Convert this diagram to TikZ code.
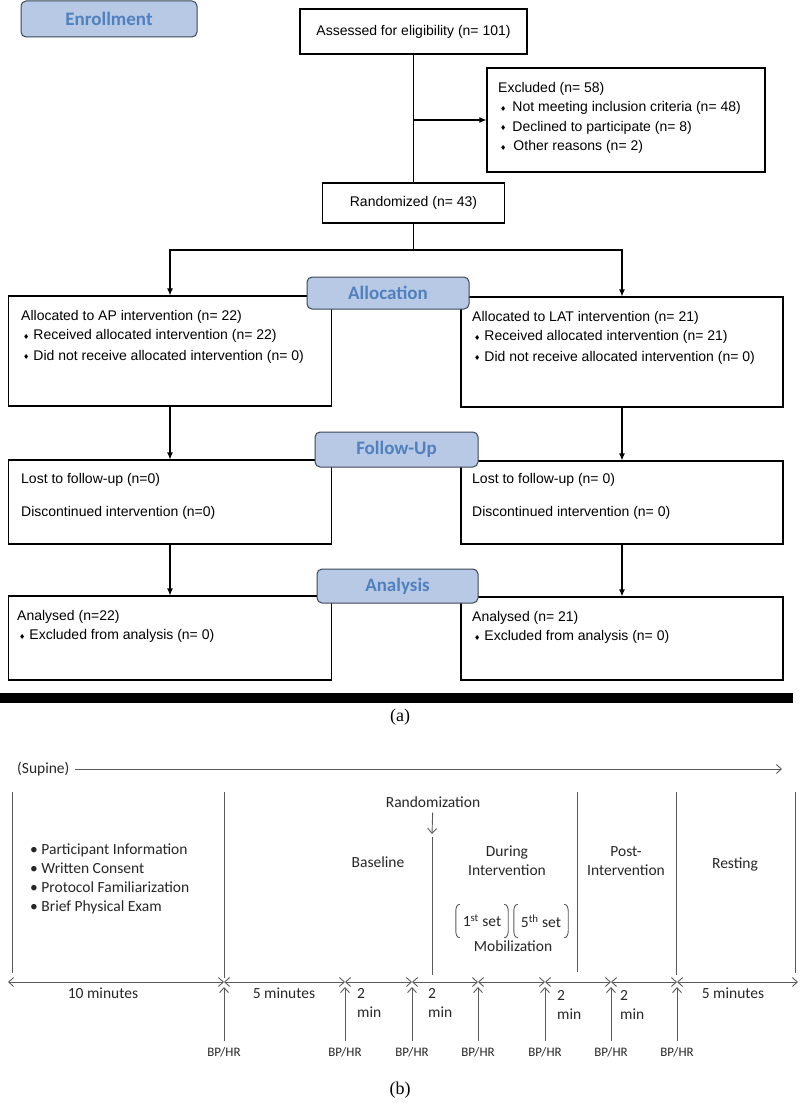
\documentclass[tikz,border=0pt]{standalone}
\usepackage{fontspec}
\setmainfont{Liberation Sans}
\newfontfamily\calfont{Carlito}
\newfontfamily\serfont{Liberation Serif}
\newfontfamily\diafont{DejaVu Sans}
\usetikzlibrary{arrows.meta,positioning}
\definecolor{lblfill}{HTML}{B7C9E5}
\definecolor{lbltext}{HTML}{5080BD}
\definecolor{lbldraw}{HTML}{3A4556}
\definecolor{tline}{HTML}{5A5A5A}
\newcommand{\dm}{\hspace*{2pt}\raisebox{0.8pt}{\diafont\fontsize{7}{7}\selectfont ♦}\hspace{4pt}}

\begin{document}
\begin{tikzpicture}[x=1pt,y=-1pt,
  box/.style={draw,line width=1.1pt,inner sep=0pt,font=\fontsize{14}{19.5}\selectfont},
  lbl/.style={draw=lbldraw,fill=lblfill,rounded corners=5pt,line width=1pt,text=lbltext,font=\calfont\bfseries\fontsize{19}{19}\selectfont,inner sep=0pt},
  txt/.style={anchor=north west,align=left,inner sep=0pt,font=\fontsize{14}{19.5}\selectfont},
  arr/.style={-{Latex[length=7pt,width=6pt]},line width=1.1pt},
  tl/.style={draw=tline,line width=0.9pt},
  tarr/.style={tl,<->,>={Straight Barb[length=5pt,width=9pt]}},
  uarr/.style={tl,->,>={Straight Barb[length=5pt,width=9pt]}},
  ctxt/.style={text=black!85,font=\calfont\fontsize{15.5}{19}\selectfont,inner sep=0pt},
  bp/.style={text=black!85,font=\calfont\fontsize{13}{13}\selectfont,inner sep=0pt},
  setbox/.style={ctxt,minimum height=33pt}]
    \useasboundingbox (0,0) rectangle (800,1105);

    % (a) flow chart
    \node[box,minimum width=227pt,minimum height=45pt] (assess) at (413.5,31.5) {Assessed for eligibility (n= 101)};
    \node[box,minimum width=278pt,minimum height=104pt] (excl) at (626,120) {};
    \node[txt] (exclt) at (498,82) {Excluded (n= 58)\\ \dm\hspace{2pt}Not meeting inclusion criteria (n= 48)\\ \dm\hspace{2pt}Declined to participate (n= 8)\\ \dm\hspace{3pt}Other reasons (n= 2)};
    \node[box,minimum width=182pt,minimum height=40pt] (rand) at (413.5,203) {Randomized (n= 43)};
    \coordinate (split) at (413.5,250);

    \node[box,minimum width=323pt,minimum height=110pt] (ap) at (170,351) {};
    \node[txt] (apt) at (21,310) {Allocated to AP intervention (n= 22)\\ \dm Received allocated intervention (n= 22)\\[1pt] \dm Did not receive allocated intervention (n= 0)};
    \node[box,minimum width=322pt,minimum height=110pt] (lat) at (622,352) {};
    \node[txt] (latt) at (472,311) {Allocated to LAT intervention (n= 21)\\ \dm Received allocated intervention (n= 21)\\[1pt] \dm Did not receive allocated intervention (n= 0)};

    \node[box,minimum width=323pt,minimum height=84pt] (lostl) at (170,502) {};
    \node[txt] (lostlt) at (21,473) {Lost to follow-up (n=0)\\[14pt] Discontinued intervention (n=0)};
    \node[box,minimum width=322pt,minimum height=83pt] (lostr) at (622,502.5) {};
    \node[txt] (lostrt) at (472,473) {Lost to follow-up (n= 0)\\[14pt] Discontinued intervention (n= 0)};

    \node[box,minimum width=323pt,minimum height=84pt] (anl) at (170,638) {};
    \node[txt] (anlt) at (17,610) {Analysed (n=22)\\ \dm Excluded from analysis (n= 0)};
    \node[box,minimum width=322pt,minimum height=83pt] (anr) at (622,638.5) {};
    \node[txt] (anrt) at (472,611) {Analysed (n= 21)\\ \dm Excluded from analysis (n= 0)};

    \draw[line width=1.1pt] (assess) -- (rand);
    \draw[arr] (assess.south |- excl.west) -- (excl.west);
    \draw[line width=1.1pt] (rand) -- (split);
    \draw[arr] (split) -| (ap);
    \draw[arr] (split) -| (lat);
    \draw[arr] (ap) -- (lostl);
    \draw[arr] (lat) -- (lostr);
    \draw[arr] (lostl) -- (anl);
    \draw[arr] (lostr) -- (anr);

    \node[lbl,minimum width=176pt,minimum height=36pt] (enrol) at (109,19) {Enrollment};
    \node[lbl,minimum width=162pt,minimum height=32pt] (alloc) at (388,293) {Allocation};
    \node[lbl,minimum width=163pt,minimum height=35pt] (follow) at (396.5,449.5) {Follow-Up};
    \node[lbl,minimum width=161pt,minimum height=34pt] (analys) at (397.5,586) {Analysis};

    \fill (0,693) rectangle (793,703);
    \node[font=\serfont\fontsize{18}{18}\selectfont] (capa) at (400,717) {(a)};

    % (b) time line
    \node[ctxt,anchor=west] (supine) at (17,769) {(Supine)};
    \coordinate (supend) at (782,769);
    \draw[uarr,shorten <=5pt] (supine) -- (supend);

    \foreach \x/\yb in {12/973, 224/978, 577/972, 676/975, 795/973}
        \draw[tl] (\x,792) -- (\x,\yb);
    \draw[tl] (432,837) -- (432,975);
    \node[ctxt] (rnd) at (433,802) {Randomization};
    \coordinate (rndtip) at (432,834);
    \draw[uarr,shorten <=5pt] (rnd) -- (rndtip);

    \foreach \x [count=\i from 0] in {8,224,345,412,478,545,611,677,798}
        \coordinate (t\i) at (\x,982);
    \foreach \a/\b in {0/1,1/2,2/3,3/4,4/5,5/6,6/7,7/8}
        \draw[tarr] (t\a) -- (t\b);
    \foreach \i in {1,...,7} {
        \path (t\i) ++(0,70) node[bp] (bp\i) {BP/HR};
        \draw[uarr,shorten <=6pt,shorten >=5pt] (bp\i) -- (t\i);
    }

    \node[ctxt] (d1) at (103,993) {10 minutes};
    \node[ctxt] (d2) at (284,993) {5 minutes};
    \node[ctxt,anchor=north west,align=left] (d3) at (357,988) {2\\min};
    \node[ctxt,anchor=north west,align=left] (d4) at (428,988) {2\\min};
    \node[ctxt,anchor=north west,align=left] (d5) at (557,990) {2\\min};
    \node[ctxt,anchor=north west,align=left] (d6) at (620,990) {2\\min};
    \node[ctxt] (d7) at (733,993) {5 minutes};

    \node[ctxt,anchor=north west,align=left] (prep) at (30,844) {• Participant Information\\• Written Consent\\• Protocol Familiarization\\• Brief Physical Exam};
    \node[ctxt] (base) at (378,862) {Baseline};
    \node[ctxt,align=center] (during) at (507,861) {During\\Intervention};
    \node[ctxt,align=center] (post) at (626,861) {Post-\\Intervention};
    \node[ctxt] (rest) at (735,864) {Resting};

    \node[setbox,minimum width=52pt] (set1) at (482,921) {1\textsuperscript{st} set};
    \node[setbox,minimum width=54pt] (set5) at (541,921) {5\textsuperscript{th} set};
    \foreach \s in {set1,set5} {
        \draw[tl] ([xshift=4pt]\s.north west) to[out=180,in=90] ([yshift=-7pt]\s.north west)
            -- ([yshift=7pt]\s.south west) to[out=-90,in=180] ([xshift=4pt]\s.south west);
        \draw[tl] ([xshift=-4pt]\s.north east) to[out=0,in=90] ([yshift=-7pt]\s.north east)
            -- ([yshift=7pt]\s.south east) to[out=-90,in=0] ([xshift=-4pt]\s.south east);
    }
    \node[ctxt] (mob) at (513,946) {Mobilization};

    \node[font=\serfont\fontsize{18}{18}\selectfont] (capb) at (400,1090) {(b)};
\end{tikzpicture}
\end{document}
